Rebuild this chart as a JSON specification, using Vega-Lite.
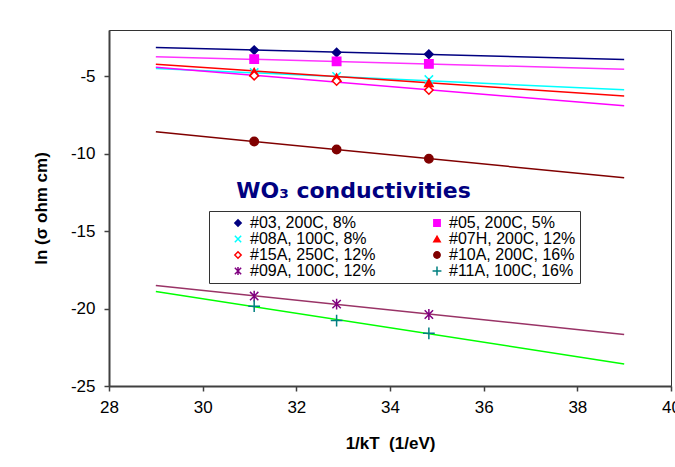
{
  "$schema": "https://vega.github.io/schema/vega-lite/v6.json",
  "width": 562,
  "height": 356,
  "autosize": "none",
  "padding": {"left": 109, "top": 30, "right": 4, "bottom": 81},
  "background": "white",
  "datasets": {
    "points": [
      {"series": "#03, 200C, 8%", "x": 31.10, "y": -3.30},
      {"series": "#03, 200C, 8%", "x": 32.86, "y": -3.45},
      {"series": "#03, 200C, 8%", "x": 34.83, "y": -3.56},
      {"series": "#05, 200C, 5%", "x": 31.10, "y": -3.88},
      {"series": "#05, 200C, 5%", "x": 32.86, "y": -4.03},
      {"series": "#05, 200C, 5%", "x": 34.83, "y": -4.19},
      {"series": "#08A, 100C, 8%", "x": 31.10, "y": -4.75},
      {"series": "#08A, 100C, 8%", "x": 32.86, "y": -5.00},
      {"series": "#08A, 100C, 8%", "x": 34.83, "y": -5.20},
      {"series": "#07H, 200C, 12%", "x": 31.10, "y": -4.72},
      {"series": "#07H, 200C, 12%", "x": 32.86, "y": -5.07},
      {"series": "#07H, 200C, 12%", "x": 34.83, "y": -5.42},
      {"series": "#15A, 250C, 12%", "x": 31.10, "y": -4.95},
      {"series": "#15A, 250C, 12%", "x": 32.86, "y": -5.30},
      {"series": "#15A, 250C, 12%", "x": 34.83, "y": -5.88},
      {"series": "#10A, 200C, 16%", "x": 31.10, "y": -9.20},
      {"series": "#10A, 200C, 16%", "x": 32.86, "y": -9.72},
      {"series": "#10A, 200C, 16%", "x": 34.83, "y": -10.32},
      {"series": "#09A, 100C, 12%", "x": 31.10, "y": -19.19},
      {"series": "#09A, 100C, 12%", "x": 32.86, "y": -19.71},
      {"series": "#09A, 100C, 12%", "x": 34.83, "y": -20.38},
      {"series": "#11A, 100C, 16%", "x": 31.10, "y": -19.84},
      {"series": "#11A, 100C, 16%", "x": 32.86, "y": -20.77},
      {"series": "#11A, 100C, 16%", "x": 34.83, "y": -21.60}
    ],
    "trends": [
      {"series": "#03, 200C, 8%", "x": 29, "y": -3.13},
      {"series": "#03, 200C, 8%", "x": 39, "y": -3.90},
      {"series": "#05, 200C, 5%", "x": 29, "y": -3.73},
      {"series": "#05, 200C, 5%", "x": 39, "y": -4.53},
      {"series": "#08A, 100C, 8%", "x": 29, "y": -4.48},
      {"series": "#08A, 100C, 8%", "x": 39, "y": -5.86},
      {"series": "#07H, 200C, 12%", "x": 29, "y": -4.21},
      {"series": "#07H, 200C, 12%", "x": 39, "y": -6.27},
      {"series": "#15A, 250C, 12%", "x": 29, "y": -4.40},
      {"series": "#15A, 250C, 12%", "x": 39, "y": -6.90},
      {"series": "#10A, 200C, 16%", "x": 29, "y": -8.58},
      {"series": "#10A, 200C, 16%", "x": 39, "y": -11.55},
      {"series": "#09A, 100C, 12%", "x": 29, "y": -18.50},
      {"series": "#09A, 100C, 12%", "x": 39, "y": -21.67},
      {"series": "#11A, 100C, 16%", "x": 29, "y": -18.89},
      {"series": "#11A, 100C, 16%", "x": 39, "y": -23.58}
    ]
  },
  "layer": [
    {
      "data": {"name": "trends"},
      "mark": {"type": "line", "strokeWidth": 1.5, "clip": true},
      "encoding": {
        "x": {"field": "x", "type": "quantitative", "scale": {"domain": [28, 40], "nice": false, "zero": false},
              "axis": {"values": [28, 30, 32, 34, 36, 38, 40], "title": "1/kT\u00a0 (1/eV)", "labelExpr": "'' + datum.value"}},
        "y": {"field": "y", "type": "quantitative", "scale": {"domain": [-25, -2], "nice": false, "zero": false},
              "axis": {"values": [-25, -20, -15, -10, -5], "title": "ln (σ ohm cm)", "labelExpr": "'' + datum.value"}},
        "color": {"field": "series", "type": "nominal", "legend": null,
                  "scale": {"domain": ["#11A, 100C, 16%", "#09A, 100C, 12%", "#10A, 200C, 16%", "#15A, 250C, 12%", "#07H, 200C, 12%", "#08A, 100C, 8%", "#05, 200C, 5%", "#03, 200C, 8%"],
                            "range": ["#00FF00", "#993366", "#800000", "#FF00FF", "#FF0000", "#00FFFF", "#FF33FF", "#000080"]}}
      }
    },
    {
      "data": {"name": "points"},
      "mark": {"type": "point", "filled": true, "size": 70, "strokeWidth": 1.5, "opacity": 1},
      "encoding": {
        "x": {"field": "x", "type": "quantitative"},
        "y": {"field": "y", "type": "quantitative"},
        "shape": {"field": "series", "type": "nominal",
                  "legend": {"title": null, "orient": "none", "legendX": 100, "legendY": 181, "columns": 2},
                  "scale": {"domain": ["#03, 200C, 8%", "#08A, 100C, 8%", "#15A, 250C, 12%", "#09A, 100C, 12%", "#05, 200C, 5%", "#07H, 200C, 12%", "#10A, 200C, 16%", "#11A, 100C, 16%"],
                            "range": ["diamond", "M-1,-1L1,1M-1,1L1,-1", "diamond", "M-1,-1L1,1M-1,1L1,-1M0,-1.3L0,1.3", "square", "triangle-up", "circle", "M-1.4,0L1.4,0M0,-1.4L0,1.4"]}},
        "fill": {"field": "series", "type": "nominal",
                 "legend": {"title": null, "orient": "none", "legendX": 100, "legendY": 181, "columns": 2},
                 "scale": {"domain": ["#03, 200C, 8%", "#08A, 100C, 8%", "#15A, 250C, 12%", "#09A, 100C, 12%", "#05, 200C, 5%", "#07H, 200C, 12%", "#10A, 200C, 16%", "#11A, 100C, 16%"],
                           "range": ["#000080", "#00FFFF", "#FFFFFF", "#800080", "#FF00FF", "#FF0000", "#800000", "#008080"]}},
        "stroke": {"field": "series", "type": "nominal",
                   "legend": {"title": null, "orient": "none", "legendX": 100, "legendY": 181, "columns": 2},
                   "scale": {"domain": ["#03, 200C, 8%", "#08A, 100C, 8%", "#15A, 250C, 12%", "#09A, 100C, 12%", "#05, 200C, 5%", "#07H, 200C, 12%", "#10A, 200C, 16%", "#11A, 100C, 16%"],
                             "range": ["#000080", "#00FFFF", "#FF0000", "#800080", "#FF00FF", "#FF0000", "#800000", "#008080"]}}
      }
    },
    {
      "data": {"values": [{}]},
      "mark": {"type": "text", "text": "WO₃ conductivities", "font": "DejaVu Sans", "fontWeight": "bold", "fontSize": 22, "color": "#000080", "align": "center", "baseline": "middle"},
      "encoding": {
        "x": {"datum": 33.22, "type": "quantitative"},
        "y": {"datum": -12.38, "type": "quantitative"}
      }
    }
  ],
  "config": {
    "view": {"stroke": "#333333", "strokeWidth": 1},
    "axis": {
      "grid": false,
      "labelFont": "Liberation Sans",
      "labelFontSize": 17,
      "labelColor": "#000000",
      "titleFont": "Liberation Sans",
      "titleFontSize": 17,
      "titleFontWeight": "bold",
      "titleColor": "#000000",
      "domainColor": "#404040",
      "domainWidth": 2,
      "tickColor": "#404040",
      "tickWidth": 1.5,
      "tickSize": 5
    },
    "axisX": {"labelPadding": 8, "titlePadding": 20, "labelFlush": false},
    "axisY": {"labelPadding": 9, "titlePadding": 20},
    "legend": {
      "strokeColor": "#333333",
      "fillColor": "#FFFFFF",
      "padding": 4,
      "symbolOffset": 17,
      "labelFont": "Liberation Sans",
      "labelFontSize": 16,
      "labelColor": "#000000",
      "labelLimit": 300,
      "symbolSize": 40,
      "symbolStrokeWidth": 1.5,
      "rowPadding": -2,
      "columnPadding": 36,
      "labelOffset": 4
    }
  }
}
